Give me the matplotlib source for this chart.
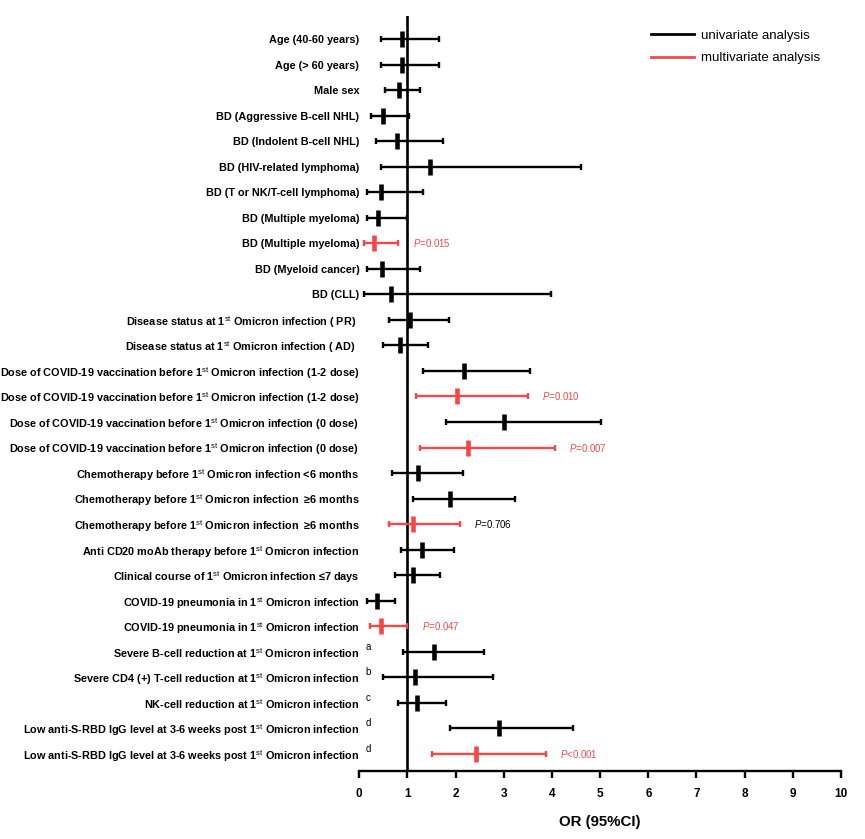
import matplotlib
matplotlib.use("Agg")
import matplotlib.pyplot as plt
from matplotlib.lines import Line2D

plt.rcParams['font.family'] = ['Liberation Sans', 'DejaVu Sans']
plt.rcParams['mathtext.fontset'] = 'custom'
plt.rcParams['mathtext.rm'] = 'Liberation Sans'
plt.rcParams['mathtext.it'] = 'Liberation Sans:italic'
plt.rcParams['mathtext.bf'] = 'Liberation Sans:bold'

ST = r"1$^{\mathrm{st}}$"

labels = [
    "Age (40-60 years)",
    "Age (> 60 years)",
    "Male sex",
    "BD (Aggressive B-cell NHL)",
    "BD (Indolent B-cell NHL)",
    "BD (HIV-related lymphoma)",
    "BD (T or NK/T-cell lymphoma)",
    "BD (Multiple myeloma)",
    "BD (Multiple myeloma)",
    "BD (Myeloid cancer)",
    "BD (CLL)",
    "Disease status at " + ST + " Omicron infection ( PR)  ",
    "Disease status at " + ST + " Omicron infection ( AD)  ",
    "Dose of COVID-19 vaccination before " + ST + " Omicron infection (1-2 dose)",
    "Dose of COVID-19 vaccination before " + ST + " Omicron infection (1-2 dose)",
    "Dose of COVID-19 vaccination before " + ST + " Omicron infection (0 dose)",
    "Dose of COVID-19 vaccination before " + ST + " Omicron infection (0 dose)",
    "Chemotherapy before " + ST + " Omicron infection <6 months",
    "Chemotherapy before " + ST + " Omicron infection  \u22656 months",
    "Chemotherapy before " + ST + " Omicron infection  \u22656 months",
    "Anti CD20 moAb therapy before " + ST + " Omicron infection",
    "Clinical course of " + ST + " Omicron infection \u22647 days",
    "COVID-19 pneumonia in " + ST + " Omicron infection",
    "COVID-19 pneumonia in " + ST + " Omicron infection",
    "Severe B-cell reduction at " + ST + " Omicron infection",
    "Severe CD4 (+) T-cell reduction at " + ST + " Omicron infection",
    "NK-cell reduction at " + ST + " Omicron infection",
    "Low anti-S-RBD IgG level at 3-6 weeks post " + ST + " Omicron infection",
    "Low anti-S-RBD IgG level at 3-6 weeks post " + ST + " Omicron infection",
]
footnotes = [""] * 24 + ["a", "b", "c", "d", "d"]

# 'u' = univariate, 'm' = multivariate
model = ["u", "u", "u", "u", "u", "u", "u", "u", "m", "u", "u", "u", "u",
         "u", "m", "u", "m", "u", "u", "m", "u", "u", "u", "m", "u", "u", "u", "u", "m"]

odds = [0.88, 0.88, 0.83, 0.50, 0.79, 1.46, 0.46, 0.395, 0.31, 0.47, 0.65,
        1.05, 0.845, 2.17, 2.03, 3.00, 2.26, 1.21, 1.89, 1.115, 1.30, 1.11,
        0.36, 0.46, 1.545, 1.16, 1.20, 2.89, 2.43]
lower = [0.457, 0.457, 0.54, 0.243, 0.35, 0.457, 0.16, 0.16, 0.105, 0.17, 0.105,
         0.617, 0.49, 1.32, 1.18, 1.79, 1.25, 0.68, 1.11, 0.61, 0.86, 0.735,
         0.17, 0.22, 0.915, 0.485, 0.80, 1.88, 1.515]
upper = [1.66, 1.65, 1.25, 1.04, 1.74, 4.60, 1.32, 0.99, 0.81, 1.26, 3.98,
         1.855, 1.42, 3.55, 3.50, 5.01, 4.06, 2.16, 3.23, 2.09, 1.96, 1.675,
         0.75, 1.00, 2.58, 2.78, 1.81, 4.44, 3.875]

p_text = {9: "0.015", 15: "0.010", 17: "0.007", 20: "0.706", 24: "0.047", 29: "<0.001"}
p_color = {9: "red", 15: "red", 17: "red", 20: "black", 24: "red", 29: "red"}

xticks = list(range(0, 11))

BLACK = "#000000"
RED = "#F54747"

fig = plt.figure(figsize=(8.65, 8.39), dpi=100)
ax = fig.add_axes([359.3 / 865, 1 - 771 / 839, (841 - 359.3) / 865, (771 - 16) / 839])

rows = list(range(1, len(labels) + 1))

ax.axvline(1, color=BLACK, lw=1.9, zorder=1)

for i, r in enumerate(rows):
    c = BLACK if model[i] == "u" else RED
    ax.errorbar([odds[i]], [r], xerr=[[odds[i] - lower[i]], [upper[i] - odds[i]]],
                fmt='none', ecolor=c, elinewidth=1.7, capsize=2.5, capthick=1.7, zorder=2)
    ax.plot([odds[i]], [r], marker='|', color=c, markersize=11.5,
            markeredgewidth=3.3, linestyle='none', zorder=3)
    if footnotes[i]:
        ax.text(0.13, r - 0.2, footnotes[i], fontsize=7, ha='left', va='center',
                clip_on=False)
    if r in p_text:
        col = RED if p_color[r] == "red" else BLACK
        ax.text(upper[i] + 0.3, r, r"$\mathit{P}$" + ("" if p_text[r].startswith("<") else "=") + p_text[r],
                fontsize=6.9, color=col, ha='left', va='center')

ax.set_xlim(0, 10)
ax.set_ylim(29.67, 0.1)
ax.set_yticks(rows)
ax.set_yticklabels(labels, fontsize=7.85, fontweight='bold')
ax.tick_params(axis='y', length=0, pad=0)
ax.set_xticks(xticks)
ax.set_xticklabels([str(t) for t in xticks], fontsize=8.5, fontweight='bold')
ax.tick_params(axis='x', length=5, width=1.7, pad=7)

for s in ['top', 'right', 'left']:
    ax.spines[s].set_visible(False)
ax.spines['bottom'].set_linewidth(1.7)

ax.set_xlabel("OR (95%CI)", fontsize=10.8, fontweight='bold', labelpad=11)

handles = [Line2D([], [], color=BLACK, lw=2), Line2D([], [], color=RED, lw=2)]
ax.legend(handles, ["univariate analysis", "multivariate analysis"],
          loc='upper left', bbox_to_anchor=(639 / 865, 1 - 18 / 839),
          bbox_transform=fig.transFigure, frameon=False, fontsize=9.5,
          handlelength=3.3, handletextpad=0.5, labelspacing=0.75)

fig.savefig("out.png", dpi=100)
